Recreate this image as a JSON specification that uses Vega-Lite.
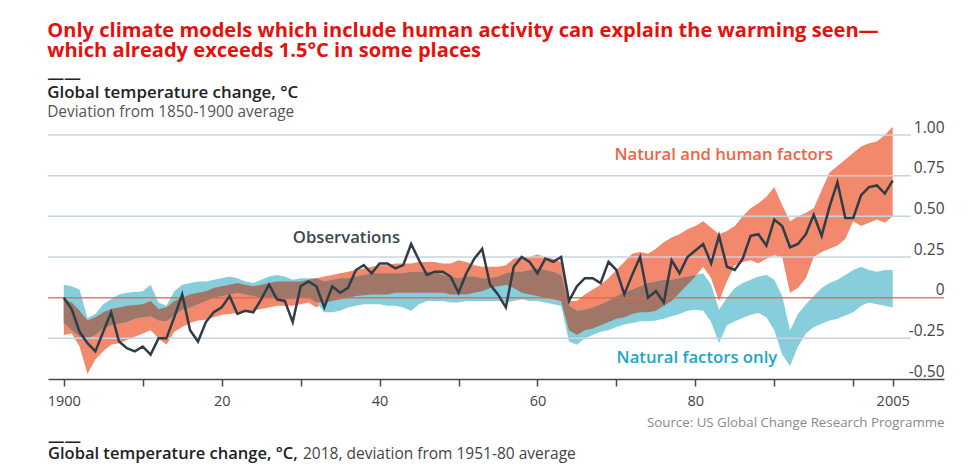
{
  "$schema": "https://vega.github.io/schema/vega-lite/v6.json",
  "background": "white",
  "padding": {"left": 47, "top": 21, "right": 0, "bottom": 0},
  "title": {
    "text": ["Only climate models which include human activity can explain the warming seen—", "which already exceeds 1.5°C in some places"],
    "anchor": "start", "color": "#e3120b", "font": "Open Sans", "fontSize": 20.1, "fontWeight": "bold", "lineHeight": 20, "offset": 9
  },
  "datasets": {
    "grid": [{"v": -0.25}, {"v": 0.25}, {"v": 0.5}, {"v": 0.75}, {"v": 1}],
    "d": [
      {"year": 1900, "obs": 0.00, "rl": -0.23, "rh": -0.01, "bl": -0.155, "bh": 0.08, "ol": -0.155, "oh": -0.01},
      {"year": 1901, "obs": -0.07, "rl": -0.22, "rh": -0.03, "bl": -0.20, "bh": 0.07, "ol": -0.20, "oh": -0.03},
      {"year": 1902, "obs": -0.21, "rl": -0.30, "rh": -0.08, "bl": -0.24, "bh": 0.05, "ol": -0.24, "oh": -0.08},
      {"year": 1903, "obs": -0.28, "rl": -0.47, "rh": -0.14, "bl": -0.25, "bh": -0.125, "ol": -0.25, "oh": -0.14},
      {"year": 1904, "obs": -0.33, "rl": -0.38, "rh": -0.12, "bl": -0.23, "bh": -0.10, "ol": -0.23, "oh": -0.12},
      {"year": 1905, "obs": -0.21, "rl": -0.33, "rh": -0.09, "bl": -0.19, "bh": -0.04, "ol": -0.19, "oh": -0.09},
      {"year": 1906, "obs": -0.09, "rl": -0.29, "rh": -0.07, "bl": -0.17, "bh": -0.01, "ol": -0.17, "oh": -0.07},
      {"year": 1907, "obs": -0.27, "rl": -0.28, "rh": -0.06, "bl": -0.16, "bh": 0.02, "ol": -0.16, "oh": -0.06},
      {"year": 1908, "obs": -0.31, "rl": -0.26, "rh": -0.05, "bl": -0.15, "bh": 0.03, "ol": -0.15, "oh": -0.05},
      {"year": 1909, "obs": -0.33, "rl": -0.24, "rh": -0.045, "bl": -0.13, "bh": 0.035, "ol": -0.13, "oh": -0.045},
      {"year": 1910, "obs": -0.30, "rl": -0.22, "rh": -0.04, "bl": -0.12, "bh": 0.04, "ol": -0.12, "oh": -0.04},
      {"year": 1911, "obs": -0.35, "rl": -0.20, "rh": -0.02, "bl": -0.115, "bh": 0.08, "ol": -0.115, "oh": -0.02},
      {"year": 1912, "obs": -0.25, "rl": -0.25, "rh": -0.07, "bl": -0.14, "bh": -0.03, "ol": -0.14, "oh": -0.07},
      {"year": 1913, "obs": -0.25, "rl": -0.29, "rh": -0.06, "bl": -0.145, "bh": -0.05, "ol": -0.145, "oh": -0.06},
      {"year": 1914, "obs": -0.12, "rl": -0.21, "rh": -0.02, "bl": -0.11, "bh": 0.04, "ol": -0.11, "oh": -0.02},
      {"year": 1915, "obs": 0.02, "rl": -0.18, "rh": 0.0, "bl": -0.075, "bh": 0.08, "ol": -0.075, "oh": 0.0},
      {"year": 1916, "obs": -0.20, "rl": -0.155, "rh": 0.02, "bl": -0.06, "bh": 0.09, "ol": -0.06, "oh": 0.02},
      {"year": 1917, "obs": -0.27, "rl": -0.14, "rh": 0.03, "bl": -0.04, "bh": 0.10, "ol": -0.04, "oh": 0.03},
      {"year": 1918, "obs": -0.15, "rl": -0.135, "rh": 0.04, "bl": -0.02, "bh": 0.10, "ol": -0.02, "oh": 0.04},
      {"year": 1919, "obs": -0.09, "rl": -0.12, "rh": 0.06, "bl": 0.0, "bh": 0.11, "ol": 0.0, "oh": 0.06},
      {"year": 1920, "obs": -0.06, "rl": -0.105, "rh": 0.07, "bl": 0.01, "bh": 0.12, "ol": 0.01, "oh": 0.07},
      {"year": 1921, "obs": 0.01, "rl": -0.10, "rh": 0.08, "bl": 0.02, "bh": 0.13, "ol": 0.02, "oh": 0.08},
      {"year": 1922, "obs": -0.10, "rl": -0.095, "rh": 0.09, "bl": 0.03, "bh": 0.12, "ol": 0.03, "oh": 0.09},
      {"year": 1923, "obs": -0.08, "rl": -0.09, "rh": 0.08, "bl": 0.02, "bh": 0.10, "ol": 0.02, "oh": 0.08},
      {"year": 1924, "obs": -0.09, "rl": -0.08, "rh": 0.07, "bl": 0.01, "bh": 0.09, "ol": 0.01, "oh": 0.07},
      {"year": 1925, "obs": -0.01, "rl": -0.07, "rh": 0.08, "bl": 0.0, "bh": 0.11, "ol": 0.0, "oh": 0.08},
      {"year": 1926, "obs": 0.08, "rl": -0.06, "rh": 0.09, "bl": 0.0, "bh": 0.13, "ol": 0.0, "oh": 0.09},
      {"year": 1927, "obs": -0.01, "rl": -0.05, "rh": 0.10, "bl": 0.0, "bh": 0.14, "ol": 0.0, "oh": 0.10},
      {"year": 1928, "obs": -0.02, "rl": -0.05, "rh": 0.10, "bl": -0.01, "bh": 0.13, "ol": -0.01, "oh": 0.10},
      {"year": 1929, "obs": -0.15, "rl": -0.05, "rh": 0.10, "bl": -0.01, "bh": 0.11, "ol": -0.01, "oh": 0.10},
      {"year": 1930, "obs": 0.07, "rl": -0.04, "rh": 0.10, "bl": 0.0, "bh": 0.12, "ol": 0.0, "oh": 0.10},
      {"year": 1931, "obs": 0.10, "rl": -0.03, "rh": 0.11, "bl": 0.0, "bh": 0.12, "ol": 0.0, "oh": 0.11},
      {"year": 1932, "obs": 0.07, "rl": -0.06, "rh": 0.12, "bl": -0.03, "bh": 0.12, "ol": -0.03, "oh": 0.12},
      {"year": 1933, "obs": -0.06, "rl": -0.03, "rh": 0.13, "bl": -0.09, "bh": 0.10, "ol": -0.03, "oh": 0.10},
      {"year": 1934, "obs": 0.07, "rl": -0.02, "rh": 0.14, "bl": -0.09, "bh": 0.11, "ol": -0.02, "oh": 0.11},
      {"year": 1935, "obs": 0.03, "rl": -0.01, "rh": 0.15, "bl": -0.08, "bh": 0.12, "ol": -0.01, "oh": 0.12},
      {"year": 1936, "obs": 0.06, "rl": 0.00, "rh": 0.16, "bl": -0.06, "bh": 0.12, "ol": 0.00, "oh": 0.12},
      {"year": 1937, "obs": 0.17, "rl": 0.01, "rh": 0.17, "bl": -0.05, "bh": 0.13, "ol": 0.01, "oh": 0.13},
      {"year": 1938, "obs": 0.20, "rl": 0.015, "rh": 0.18, "bl": -0.04, "bh": 0.14, "ol": 0.015, "oh": 0.14},
      {"year": 1939, "obs": 0.15, "rl": 0.02, "rh": 0.19, "bl": -0.04, "bh": 0.15, "ol": 0.02, "oh": 0.15},
      {"year": 1940, "obs": 0.21, "rl": 0.02, "rh": 0.20, "bl": -0.04, "bh": 0.15, "ol": 0.02, "oh": 0.15},
      {"year": 1941, "obs": 0.21, "rl": 0.02, "rh": 0.20, "bl": -0.05, "bh": 0.15, "ol": 0.02, "oh": 0.15},
      {"year": 1942, "obs": 0.18, "rl": 0.03, "rh": 0.21, "bl": -0.05, "bh": 0.15, "ol": 0.03, "oh": 0.15},
      {"year": 1943, "obs": 0.20, "rl": 0.03, "rh": 0.21, "bl": -0.06, "bh": 0.15, "ol": 0.03, "oh": 0.15},
      {"year": 1944, "obs": 0.33, "rl": 0.03, "rh": 0.21, "bl": -0.08, "bh": 0.16, "ol": 0.03, "oh": 0.16},
      {"year": 1945, "obs": 0.23, "rl": 0.03, "rh": 0.22, "bl": -0.04, "bh": 0.16, "ol": 0.03, "oh": 0.16},
      {"year": 1946, "obs": 0.14, "rl": 0.03, "rh": 0.22, "bl": -0.02, "bh": 0.16, "ol": 0.03, "oh": 0.16},
      {"year": 1947, "obs": 0.16, "rl": 0.03, "rh": 0.22, "bl": -0.02, "bh": 0.16, "ol": 0.03, "oh": 0.16},
      {"year": 1948, "obs": 0.16, "rl": 0.03, "rh": 0.21, "bl": -0.02, "bh": 0.14, "ol": 0.03, "oh": 0.14},
      {"year": 1949, "obs": 0.13, "rl": 0.02, "rh": 0.21, "bl": -0.03, "bh": 0.13, "ol": 0.02, "oh": 0.13},
      {"year": 1950, "obs": 0.03, "rl": 0.02, "rh": 0.23, "bl": -0.03, "bh": 0.12, "ol": 0.02, "oh": 0.12},
      {"year": 1951, "obs": 0.15, "rl": 0.02, "rh": 0.22, "bl": -0.02, "bh": 0.13, "ol": 0.02, "oh": 0.13},
      {"year": 1952, "obs": 0.24, "rl": 0.03, "rh": 0.20, "bl": -0.02, "bh": 0.13, "ol": 0.03, "oh": 0.13},
      {"year": 1953, "obs": 0.30, "rl": 0.04, "rh": 0.19, "bl": -0.02, "bh": 0.12, "ol": 0.04, "oh": 0.12},
      {"year": 1954, "obs": 0.08, "rl": 0.06, "rh": 0.19, "bl": -0.02, "bh": 0.12, "ol": 0.06, "oh": 0.12},
      {"year": 1955, "obs": 0.02, "rl": 0.07, "rh": 0.19, "bl": -0.02, "bh": 0.13, "ol": 0.07, "oh": 0.13},
      {"year": 1956, "obs": -0.06, "rl": 0.08, "rh": 0.20, "bl": -0.03, "bh": 0.15, "ol": 0.08, "oh": 0.15},
      {"year": 1957, "obs": 0.19, "rl": 0.06, "rh": 0.24, "bl": -0.02, "bh": 0.16, "ol": 0.06, "oh": 0.16},
      {"year": 1958, "obs": 0.25, "rl": 0.03, "rh": 0.25, "bl": -0.01, "bh": 0.16, "ol": 0.03, "oh": 0.16},
      {"year": 1959, "obs": 0.22, "rl": 0.02, "rh": 0.25, "bl": -0.02, "bh": 0.17, "ol": 0.02, "oh": 0.17},
      {"year": 1960, "obs": 0.15, "rl": 0.01, "rh": 0.265, "bl": -0.02, "bh": 0.18, "ol": 0.01, "oh": 0.18},
      {"year": 1961, "obs": 0.24, "rl": 0.00, "rh": 0.25, "bl": -0.03, "bh": 0.17, "ol": 0.00, "oh": 0.17},
      {"year": 1962, "obs": 0.22, "rl": -0.01, "rh": 0.24, "bl": -0.04, "bh": 0.16, "ol": -0.01, "oh": 0.16},
      {"year": 1963, "obs": 0.25, "rl": -0.02, "rh": 0.22, "bl": -0.05, "bh": 0.14, "ol": -0.02, "oh": 0.14},
      {"year": 1964, "obs": -0.02, "rl": -0.20, "rh": -0.02, "bl": -0.27, "bh": -0.05, "ol": -0.20, "oh": -0.05},
      {"year": 1965, "obs": 0.07, "rl": -0.23, "rh": -0.02, "bl": -0.29, "bh": -0.08, "ol": -0.23, "oh": -0.08},
      {"year": 1966, "obs": 0.12, "rl": -0.20, "rh": 0.02, "bl": -0.25, "bh": -0.075, "ol": -0.20, "oh": -0.075},
      {"year": 1967, "obs": 0.12, "rl": -0.19, "rh": 0.05, "bl": -0.23, "bh": -0.06, "ol": -0.19, "oh": -0.06},
      {"year": 1968, "obs": 0.09, "rl": -0.17, "rh": 0.08, "bl": -0.21, "bh": -0.04, "ol": -0.17, "oh": -0.04},
      {"year": 1969, "obs": 0.22, "rl": -0.15, "rh": 0.12, "bl": -0.20, "bh": -0.02, "ol": -0.15, "oh": -0.02},
      {"year": 1970, "obs": 0.17, "rl": -0.13, "rh": 0.17, "bl": -0.18, "bh": 0.01, "ol": -0.13, "oh": 0.01},
      {"year": 1971, "obs": 0.02, "rl": -0.12, "rh": 0.22, "bl": -0.165, "bh": 0.03, "ol": -0.12, "oh": 0.03},
      {"year": 1972, "obs": 0.14, "rl": -0.10, "rh": 0.27, "bl": -0.155, "bh": 0.05, "ol": -0.10, "oh": 0.05},
      {"year": 1973, "obs": 0.25, "rl": -0.09, "rh": 0.28, "bl": -0.145, "bh": 0.07, "ol": -0.09, "oh": 0.07},
      {"year": 1974, "obs": 0.00, "rl": -0.09, "rh": 0.27, "bl": -0.145, "bh": 0.09, "ol": -0.09, "oh": 0.09},
      {"year": 1975, "obs": 0.04, "rl": -0.08, "rh": 0.30, "bl": -0.14, "bh": 0.10, "ol": -0.08, "oh": 0.10},
      {"year": 1976, "obs": -0.03, "rl": -0.05, "rh": 0.34, "bl": -0.13, "bh": 0.11, "ol": -0.05, "oh": 0.11},
      {"year": 1977, "obs": 0.23, "rl": -0.02, "rh": 0.37, "bl": -0.115, "bh": 0.11, "ol": -0.02, "oh": 0.11},
      {"year": 1978, "obs": 0.15, "rl": 0.03, "rh": 0.39, "bl": -0.10, "bh": 0.12, "ol": 0.03, "oh": 0.12},
      {"year": 1979, "obs": 0.25, "rl": 0.08, "rh": 0.42, "bl": -0.08, "bh": 0.13, "ol": 0.08, "oh": 0.13},
      {"year": 1980, "obs": 0.29, "rl": 0.13, "rh": 0.44, "bl": -0.075, "bh": 0.14, "ol": 0.13, "oh": 0.14},
      {"year": 1981, "obs": 0.33, "rl": 0.19, "rh": 0.47, "bl": -0.08, "bh": 0.15},
      {"year": 1982, "obs": 0.21, "rl": 0.12, "rh": 0.43, "bl": -0.15, "bh": 0.08},
      {"year": 1983, "obs": 0.38, "rl": -0.02, "rh": 0.39, "bl": -0.28, "bh": -0.075},
      {"year": 1984, "obs": 0.19, "rl": 0.10, "rh": 0.41, "bl": -0.17, "bh": 0.00},
      {"year": 1985, "obs": 0.17, "rl": 0.20, "rh": 0.44, "bl": -0.145, "bh": 0.06},
      {"year": 1986, "obs": 0.24, "rl": 0.22, "rh": 0.50, "bl": -0.125, "bh": 0.09},
      {"year": 1987, "obs": 0.38, "rl": 0.23, "rh": 0.55, "bl": -0.105, "bh": 0.11},
      {"year": 1988, "obs": 0.39, "rl": 0.21, "rh": 0.58, "bl": -0.095, "bh": 0.13},
      {"year": 1989, "obs": 0.32, "rl": 0.24, "rh": 0.62, "bl": -0.12, "bh": 0.14},
      {"year": 1990, "obs": 0.48, "rl": 0.26, "rh": 0.68, "bl": -0.20, "bh": 0.11},
      {"year": 1991, "obs": 0.44, "rl": 0.25, "rh": 0.57, "bl": -0.35, "bh": 0.01},
      {"year": 1992, "obs": 0.31, "rl": 0.03, "rh": 0.47, "bl": -0.42, "bh": -0.20},
      {"year": 1993, "obs": 0.33, "rl": 0.06, "rh": 0.50, "bl": -0.30, "bh": -0.10},
      {"year": 1994, "obs": 0.39, "rl": 0.12, "rh": 0.52, "bl": -0.22, "bh": -0.04},
      {"year": 1995, "obs": 0.51, "rl": 0.25, "rh": 0.55, "bl": -0.18, "bh": 0.01},
      {"year": 1996, "obs": 0.38, "rl": 0.28, "rh": 0.66, "bl": -0.16, "bh": 0.06},
      {"year": 1997, "obs": 0.56, "rl": 0.30, "rh": 0.77, "bl": -0.14, "bh": 0.09},
      {"year": 1998, "obs": 0.71, "rl": 0.32, "rh": 0.81, "bl": -0.13, "bh": 0.11},
      {"year": 1999, "obs": 0.49, "rl": 0.36, "rh": 0.85, "bl": -0.11, "bh": 0.14},
      {"year": 2000, "obs": 0.49, "rl": 0.47, "rh": 0.89, "bl": -0.09, "bh": 0.17},
      {"year": 2001, "obs": 0.63, "rl": 0.44, "rh": 0.93, "bl": -0.05, "bh": 0.19},
      {"year": 2002, "obs": 0.68, "rl": 0.46, "rh": 0.95, "bl": -0.03, "bh": 0.17},
      {"year": 2003, "obs": 0.69, "rl": 0.48, "rh": 0.96, "bl": -0.04, "bh": 0.16},
      {"year": 2004, "obs": 0.64, "rl": 0.46, "rh": 1.00, "bl": -0.05, "bh": 0.17},
      {"year": 2005, "obs": 0.72, "rl": 0.50, "rh": 1.05, "bl": -0.06, "bh": 0.17}
    ]
  },
  "spacing": 4,
  "vconcat": [
    {
      "width": 896,
      "height": 244,
      "title": {
        "text": ["——", "Global temperature change, °C"],
        "subtitle": "Deviation from 1850-1900 average",
        "anchor": "start", "font": "Open Sans", "fontSize": 16.9, "fontWeight": 600, "color": "#222222", "lineHeight": 13.3,
        "subtitleFont": "Open Sans", "subtitleFontSize": 15.4, "subtitleColor": "#555555", "subtitlePadding": 3, "offset": -1
      },
      "layer": [
        {
          "data": {"name": "d"},
          "mark": {"type": "area", "color": "#f3896c"},
          "encoding": {
            "x": {"field": "year", "type": "quantitative",
              "scale": {"domain": [1898, 2011.5], "nice": false, "zero": false},
              "axis": {
                "values": [1900, 1910, 1920, 1930, 1940, 1950, 1960, 1970, 1980, 1990, 2000, 2005],
                "labelExpr": "datum.value == 1900 || datum.value == 2005 ? '' + datum.value : (datum.value % 20 == 0 && datum.value < 2000 ? slice('' + datum.value, 2) : '')",
                "grid": false, "domainColor": "#4a4a4a", "domainWidth": 1.5, "tickColor": "#4a4a4a", "tickWidth": 1.5, "tickSize": 7,
                "labelFont": "Open Sans", "labelFontSize": 14.5, "labelColor": "#444444", "labelPadding": 8, "labelOverlap": false, "labelFlush": false,
                "title": "Source: US Global Change Research Programme", "titleAnchor": "end", "titleFont": "Open Sans", "titleFontSize": 13.3,
                "titleFontWeight": "normal", "titleColor": "#8a8a8a", "titlePadding": 8
              }
            },
            "y": {"field": "rl", "type": "quantitative",
              "scale": {"domain": [-0.5, 1.0], "nice": false, "zero": false},
              "axis": {
                "orient": "right", "values": [-0.5, -0.25, 0, 0.25, 0.5, 0.75, 1],
                "labelExpr": "datum.value == 0 ? '0' : replace(format(datum.value, '.2f'), '−', '-')",
                "domain": false, "ticks": false, "grid": false, "labelAlign": "right", "labelBaseline": "alphabetic",
                "labelPadding": 0, "labelOffset": -3, "labelFont": "Open Sans", "labelFontSize": 15.5, "labelColor": "#444444", "title": null
              }
            },
            "y2": {"field": "rh"}
          }
        },
        {
          "data": {"name": "d"},
          "mark": {"type": "area", "color": "#86cedb"},
          "encoding": {
            "x": {"field": "year", "type": "quantitative", "scale": {"domain": [1898, 2011.5], "nice": false, "zero": false}},
            "y": {"field": "bl", "type": "quantitative", "scale": {"domain": [-0.5, 1.0], "nice": false, "zero": false}, "title": null},
            "y2": {"field": "bh"}
          }
        },
        {
          "data": {"name": "d"},
          "transform": [{"filter": "isValid(datum.ol)"}],
          "mark": {"type": "area", "color": "#a07668"},
          "encoding": {
            "x": {"field": "year", "type": "quantitative", "scale": {"domain": [1898, 2011.5], "nice": false, "zero": false}},
            "y": {"field": "ol", "type": "quantitative", "scale": {"domain": [-0.5, 1.0], "nice": false, "zero": false}, "title": null},
            "y2": {"field": "oh"}
          }
        },
        {
          "data": {"name": "grid"},
          "mark": {"type": "rule", "color": "#c6d4de", "strokeWidth": 1.5},
          "encoding": {
            "y": {"field": "v", "type": "quantitative", "title": null},
            "x": {"datum": 1898},
            "x2": {"datum": 2007.3}
          }
        },
        {
          "data": {"values": [{}]},
          "mark": {"type": "rule", "color": "#e8634a", "strokeWidth": 1.5, "opacity": 0.85},
          "encoding": {"y": {"datum": 0}}
        },
        {
          "data": {"name": "d"},
          "mark": {"type": "line", "color": "#2e3d46", "strokeWidth": 2.5},
          "encoding": {
            "x": {"field": "year", "type": "quantitative"},
            "y": {"field": "obs", "type": "quantitative", "title": null}
          }
        },
        {
          "data": {"values": [{}]},
          "mark": {"type": "text", "font": "Open Sans", "fontSize": 16.7, "fontWeight": 600, "color": "#3a4850", "align": "center", "baseline": "middle"},
          "encoding": {"x": {"datum": 1935.8}, "y": {"datum": 0.366}, "text": {"value": "Observations"}}
        },
        {
          "data": {"values": [{}]},
          "mark": {"type": "text", "font": "Open Sans", "fontSize": 16.7, "fontWeight": 600, "color": "#ee6446", "align": "center", "baseline": "middle"},
          "encoding": {"x": {"datum": 1983.6}, "y": {"datum": 0.88}, "text": {"value": "Natural and human factors"}}
        },
        {
          "data": {"values": [{}]},
          "mark": {"type": "text", "font": "Open Sans", "fontSize": 16.7, "fontWeight": 600, "color": "#1aa7c4", "align": "center", "baseline": "middle"},
          "encoding": {"x": {"datum": 1980.2}, "y": {"datum": -0.37}, "text": {"value": "Natural factors only"}}
        }
      ]
    },
    {
      "spacing": 0,
      "hconcat": [
        {
          "width": 1, "height": 1,
          "data": {"values": [{}]},
          "mark": {"type": "text"},
          "encoding": {},
          "title": {"text": ["——", "Global temperature change, °C,"], "anchor": "start", "font": "Open Sans", "fontSize": 16.5, "fontWeight": 600, "color": "#222222", "lineHeight": 12.5, "offset": 0}
        },
        {
          "width": 1, "height": 1,
          "data": {"values": [{}]},
          "mark": {"type": "text"},
          "encoding": {},
          "title": {"text": ["", "2018, deviation from 1951-80 average"], "anchor": "start", "font": "Open Sans", "fontSize": 15.5, "fontWeight": "normal", "color": "#444444", "lineHeight": 12.5, "offset": 0, "dx": 5}
        }
      ]
    }
  ],
  "config": {"view": {"stroke": null}, "font": "Open Sans"}
}
